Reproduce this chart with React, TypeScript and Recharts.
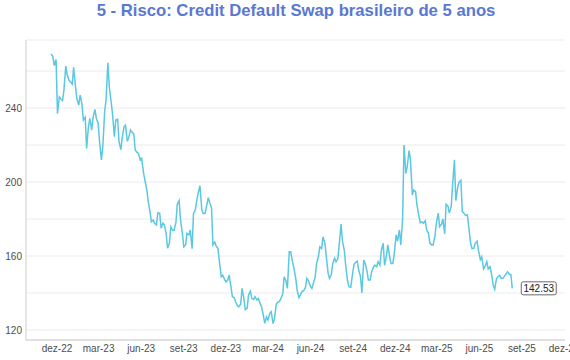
import { LineChart, Line, XAxis, YAxis, CartesianGrid } from 'recharts';

// closes, twice a week (Tue / Fri), one array pair per year
const dates2022 = [
  '2022-11-18', '2022-11-22', '2022-11-25', '2022-11-29',
  '2022-12-02', '2022-12-06', '2022-12-09', '2022-12-13', '2022-12-16', '2022-12-20', '2022-12-23', '2022-12-27', '2022-12-30',
];
const values2022 = [
  269.2, 268, 263, 266.3,
  237, 246, 245, 244, 249.7, 262.7, 258, 255, 254.2,
];

const dates2023 = [
  '2023-01-03', '2023-01-06', '2023-01-10', '2023-01-13', '2023-01-17', '2023-01-20', '2023-01-24', '2023-01-27', '2023-01-31',
  '2023-02-03', '2023-02-07', '2023-02-10', '2023-02-14', '2023-02-17', '2023-02-21', '2023-02-24', '2023-02-28',
  '2023-03-03', '2023-03-07', '2023-03-10', '2023-03-14', '2023-03-17', '2023-03-21', '2023-03-24', '2023-03-28', '2023-03-31',
  '2023-04-04', '2023-04-07', '2023-04-11', '2023-04-14', '2023-04-18', '2023-04-21', '2023-04-25', '2023-04-28',
  '2023-05-02', '2023-05-05', '2023-05-09', '2023-05-12', '2023-05-16', '2023-05-19', '2023-05-23', '2023-05-26', '2023-05-30',
  '2023-06-02', '2023-06-06', '2023-06-09', '2023-06-13', '2023-06-16', '2023-06-20', '2023-06-23', '2023-06-27', '2023-06-30',
  '2023-07-04', '2023-07-07', '2023-07-11', '2023-07-14', '2023-07-18', '2023-07-21', '2023-07-25', '2023-07-28',
  '2023-08-01', '2023-08-04', '2023-08-08', '2023-08-11', '2023-08-15', '2023-08-18', '2023-08-22', '2023-08-25', '2023-08-29',
  '2023-09-01', '2023-09-05', '2023-09-08', '2023-09-12', '2023-09-15', '2023-09-19', '2023-09-22', '2023-09-26', '2023-09-29',
  '2023-10-03', '2023-10-06', '2023-10-10', '2023-10-13', '2023-10-17', '2023-10-20', '2023-10-24', '2023-10-27', '2023-10-31',
  '2023-11-03', '2023-11-07', '2023-11-10', '2023-11-14', '2023-11-17', '2023-11-21', '2023-11-24', '2023-11-28',
  '2023-12-01', '2023-12-05', '2023-12-08', '2023-12-12', '2023-12-15', '2023-12-19', '2023-12-22', '2023-12-26', '2023-12-29',
];
const values2023 = [
  253, 262, 251.5, 245, 241.6, 247, 242, 233.5, 235,
  218.2, 229.9, 234.4, 228.1, 235, 239.3, 234.4, 231.7,
  221.8, 211.9, 219.1, 238, 244.3, 264.5, 251.5, 243.4, 237,
  224.5, 233.5, 234, 222, 217.5, 224, 230, 230.8,
  222, 224, 228.1, 227, 226, 217.3, 216, 215.5, 211.9,
  212.8, 205, 201.1, 196, 190, 184, 178.5, 179.5, 177.7,
  176.8, 183.4, 183.1, 175, 177.7, 176.8, 172, 164.2,
  167, 175.8, 174, 174, 178, 188, 190, 179.5, 172.3,
  165, 166, 172.3, 171.4, 174.1, 164, 183, 185, 190,
  195, 198, 185, 183, 183, 186.7, 191.5, 189, 186,
  166, 167.5, 165.4, 164, 157, 148.8, 149.7, 147.5,
  146, 147, 149.7, 143.5, 138, 137.5, 135.3, 133, 132.6,
];

const dates2024 = [
  '2024-01-02', '2024-01-05', '2024-01-09', '2024-01-12', '2024-01-16', '2024-01-19', '2024-01-23', '2024-01-26', '2024-01-30',
  '2024-02-02', '2024-02-06', '2024-02-09', '2024-02-13', '2024-02-16', '2024-02-20', '2024-02-23', '2024-02-27',
  '2024-03-01', '2024-03-05', '2024-03-08', '2024-03-12', '2024-03-15', '2024-03-19', '2024-03-22', '2024-03-26', '2024-03-29',
  '2024-04-02', '2024-04-05', '2024-04-09', '2024-04-12', '2024-04-16', '2024-04-19', '2024-04-23', '2024-04-26', '2024-04-30',
  '2024-05-03', '2024-05-07', '2024-05-10', '2024-05-14', '2024-05-17', '2024-05-21', '2024-05-24', '2024-05-28', '2024-05-31',
  '2024-06-04', '2024-06-07', '2024-06-11', '2024-06-14', '2024-06-18', '2024-06-21', '2024-06-25', '2024-06-28',
  '2024-07-02', '2024-07-05', '2024-07-09', '2024-07-12', '2024-07-16', '2024-07-19', '2024-07-23', '2024-07-26', '2024-07-30',
  '2024-08-02', '2024-08-06', '2024-08-09', '2024-08-13', '2024-08-16', '2024-08-20', '2024-08-23', '2024-08-27', '2024-08-30',
  '2024-09-03', '2024-09-06', '2024-09-10', '2024-09-13', '2024-09-17', '2024-09-20', '2024-09-24', '2024-09-27',
  '2024-10-01', '2024-10-04', '2024-10-08', '2024-10-11', '2024-10-15', '2024-10-18', '2024-10-22', '2024-10-25', '2024-10-29',
  '2024-11-01', '2024-11-05', '2024-11-08', '2024-11-12', '2024-11-15', '2024-11-19', '2024-11-22', '2024-11-26', '2024-11-29',
  '2024-12-03', '2024-12-06', '2024-12-10', '2024-12-13', '2024-12-17', '2024-12-20', '2024-12-24', '2024-12-27', '2024-12-31',
];
const values2024 = [
  134, 142.5, 137, 131, 131.7, 138.9, 141, 137.1, 136.5,
  138, 136.2, 137.1, 134.4, 132.6, 128, 123.6, 127.2,
  125.4, 129, 129.9, 123.5, 126, 134, 135, 135.5, 137.1,
  139.5, 148.8, 146.5, 142.5, 162.3, 162.3, 157, 153.4, 148,
  141.6, 137.5, 138.9, 141, 141.2, 143, 147.9, 146.5, 144,
  142.5, 145.2, 148.5, 156, 159.6, 165, 164, 170.4,
  167, 160, 150.6, 147.9, 150, 156, 158.8, 156.9, 158.5,
  166, 177.3, 168, 163, 155, 146.5, 143.4, 143.1, 148.8,
  155.5, 156.5, 157.3, 152.4, 149, 140, 157.8, 156,
  152, 147, 147, 151.5, 154, 155.1, 154.2, 156.9, 155.1,
  163, 166.9, 155, 160, 166, 159.6, 156, 156, 161.5,
  171.4, 168, 174.1, 166, 180, 220, 204.7, 208.3, 217,
];

const dates2025 = [
  '2025-01-03', '2025-01-07', '2025-01-10', '2025-01-14', '2025-01-17', '2025-01-21', '2025-01-24', '2025-01-28', '2025-01-31',
  '2025-02-04', '2025-02-07', '2025-02-11', '2025-02-14', '2025-02-18', '2025-02-21', '2025-02-25', '2025-02-28',
  '2025-03-04', '2025-03-07', '2025-03-11', '2025-03-14', '2025-03-18', '2025-03-21', '2025-03-25', '2025-03-28',
  '2025-04-01', '2025-04-04', '2025-04-08', '2025-04-11', '2025-04-15', '2025-04-18', '2025-04-22', '2025-04-25', '2025-04-29',
  '2025-05-02', '2025-05-06', '2025-05-09', '2025-05-13', '2025-05-16', '2025-05-20', '2025-05-23', '2025-05-27', '2025-05-30',
  '2025-06-03', '2025-06-06', '2025-06-10', '2025-06-13', '2025-06-17', '2025-06-20', '2025-06-24', '2025-06-27',
  '2025-07-01', '2025-07-04', '2025-07-08', '2025-07-11', '2025-07-15', '2025-07-18', '2025-07-22', '2025-07-25', '2025-07-29',
  '2025-08-01', '2025-08-05', '2025-08-08', '2025-08-11',
];
const values2025 = [
  212, 193, 195.7, 194.8, 187.6, 182, 178, 178.5, 177.7,
  179, 174.1, 172.3, 166.9, 166, 166, 171, 178,
  183.2, 175.8, 177.2, 180, 172, 188, 187, 183.2,
  186.7, 198, 212, 190, 197, 200, 201, 184, 183,
  182, 182.2, 175.8, 166.9, 164, 164.2, 166.9, 168, 163,
  158, 159.6, 153, 154.2, 157, 153, 154.2, 150.6,
  144, 142, 147.9, 148.8, 149.5, 147.9, 148, 149, 150.5,
  151.5, 150, 150, 142.53,
];

const xTicks = [
  '2022-12-01', '2023-03-01', '2023-06-01', '2023-09-01', '2023-12-01', '2024-03-01', '2024-06-01',
  '2024-09-01', '2024-12-01', '2025-03-01', '2025-06-01', '2025-09-01', '2025-12-01',
];
const yTicks = [120, 140, 160, 180, 200, 220, 240, 260];
const mesesPt = ['jan', 'fev', 'mar', 'abr', 'mai', 'jun', 'jul', 'ago', 'set', 'out', 'nov', 'dez'];

const allDates = [...dates2022, ...dates2023, ...dates2024, ...dates2025];
const allValues = [...values2022, ...values2023, ...values2024, ...values2025];
const data = allDates.map((d, i) => ({ t: Date.parse(d), v: allValues[i] }));
const lastIdx = data.length - 1;

const fmtMonth = (t: number) => {
  const d = new Date(t);
  return `${mesesPt[d.getUTCMonth()]}-${String(d.getUTCFullYear()).slice(2)}`;
};

// only the last point gets a mark: the boxed latest value
const renderDot = (p: any) => {
  if (p.index !== lastIdx) return <g key={`d-${p.index}`} />;
  const bx = p.cx + 9;
  return (
    <g key="last-label">
      <rect x={bx} y={p.cy - 6.5} width={35} height={13} rx={2} fill="#fff" stroke="#444" strokeWidth={0.8} />
      <text x={bx + 17.5} y={p.cy + 3.5} textAnchor="middle" fontSize={10} fill="#222">
        {allValues[lastIdx].toFixed(2)}
      </text>
    </g>
  );
};

export default function App() {
  return (
    <div style={{ position: 'absolute', left: 0, top: 0, width: 570, height: 360, overflow: 'hidden', background: '#fff', fontFamily: '"Liberation Sans", Arial, sans-serif' }}>
      <div style={{ position: 'absolute', left: 96, width: 400, top: 1, textAlign: 'center', fontSize: 16.7, lineHeight: '20px', fontWeight: 'bold', color: '#5a78d2' }}>
        5 - Risco: Credit Default Swap brasileiro de 5 anos
      </div>
      <LineChart width={570} height={360} data={data} margin={{ top: 40, right: 5, bottom: 0, left: 0 }}>
        <CartesianGrid vertical={false} stroke="#ebebeb" />
        <XAxis
          dataKey="t"
          type="number"
          domain={[Date.parse('2022-09-25'), Date.parse('2025-12-03')]}
          ticks={xTicks.map((d) => Date.parse(d))}
          tickFormatter={fmtMonth}
          interval={0}
          height={20}
          tickLine={false}
          tickSize={0}
          tickMargin={5}
          stroke="#cccccc"
          tick={{ fill: '#4d4d4d', fontSize: 10 }}
        />
        <YAxis
          type="number"
          domain={[114.6, 276.8]}
          ticks={yTicks}
          tickFormatter={(v: number) => (v % 40 === 0 ? String(v) : '')}
          width={26}
          tickLine={false}
          tickSize={0}
          tickMargin={4}
          stroke="#cccccc"
          tick={{ fill: '#4d4d4d', fontSize: 10 }}
        />
        <Line
          type="linear"
          dataKey="v"
          stroke="#5bc8e1"
          strokeWidth={1.5}
          dot={renderDot}
          activeDot={false}
          isAnimationActive={false}
        />
      </LineChart>
    </div>
  );
}
